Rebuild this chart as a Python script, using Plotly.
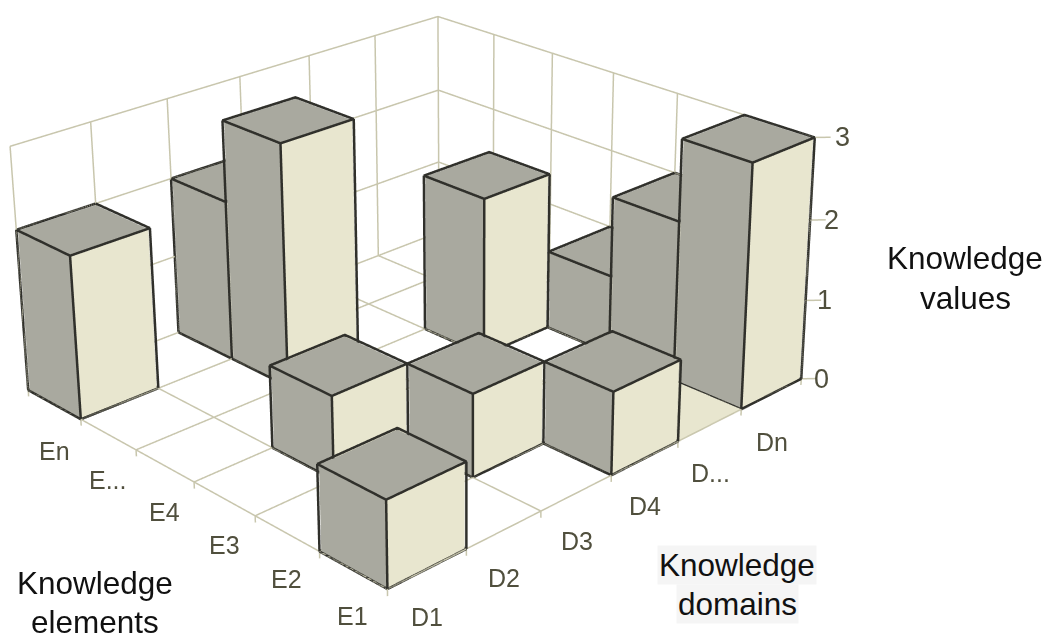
import plotly.graph_objects as go

# Chart content
DOMAINS = ["D1", "D2", "D3", "D4", "D...", "Dn"]
ELEMENTS = ["E1", "E2", "E3", "E4", "E...", "En"]
VALUE_TICKS = [0, 1, 2, 3]
# One row per element, one column per domain
KNOWLEDGE = [
    [1, 0, 0, 1, 0, 3],
    [0, 0, 1, 0, 0, 2],
    [0, 1, 0, 0, 0, 1],
    [0, 0, 0, 0, 2, 0],
    [0, 0, 3, 0, 0, 0],
    [2, 0, 2, 0, 0, 0],
]
# Zero-height cell whose floor square is tinted (column, row)
TINTED_CELL = (4, 0)

# Canvas larger than the window so the 3D lens is long; only one part of it is shown
VIEW_W, VIEW_H = 1049, 635
FIG_W, FIG_H = 3049, 2021
LEFT, TOP = 1035, 845

GREY = "#A9A99F"
CREAM = "#E8E6CF"
EDGE = "#30302B"
GRID = "#C8C6AD"
TICK_TEXT = "#504F3D"
# Faces sit slightly inside their outline so the full stroke width stays visible
INSET = 0.012
VALUE_TICK_SHIFT = [20, 19, 21, 28]


def polyline_trace(segments, color, width):
    xs, ys, zs = [], [], []
    for seg in segments:
        for p in seg:
            xs.append(p[0]); ys.append(p[1]); zs.append(p[2])
        xs.append(None); ys.append(None); zs.append(None)
    return go.Scatter3d(x=xs, y=ys, z=zs, mode="lines", hoverinfo="skip",
                        showlegend=False, line=dict(color=color, width=width))


n_d, n_e, top = len(DOMAINS), len(ELEMENTS), VALUE_TICKS[-1]

# Walls, floor and the little tick stubs
grid = []
for a in range(n_d + 1):
    grid.append([(a, 0, -0.08), (a, 0, 0), (a, n_e, 0), (a, n_e, top)])
for b in range(n_e + 1):
    grid.append([(0, b, -0.08), (0, b, 0), (n_d, b, 0), (n_d, b, top)])
for v in VALUE_TICKS:
    grid.append([(0, n_e, v), (n_d, n_e, v), (n_d, 0, v), (n_d + 0.12, -0.12, v)])

# Bars
vx, vy, vz, fi, fj, fk, fc = [], [], [], [], [], [], []
edges = []
for b, row in enumerate(KNOWLEDGE):
    for a, val in enumerate(row):
        if not val:
            continue
        base = len(vx)
        for zz in (0, val - INSET):
            for xx, yy in ((a + INSET, b + INSET), (a + 1 - INSET, b + INSET),
                           (a + 1 - INSET, b + 1 - INSET), (a + INSET, b + 1 - INSET)):
                vx.append(xx); vy.append(yy); vz.append(zz)
        quads = [((0, 1, 5, 4), CREAM), ((3, 0, 4, 7), GREY), ((4, 5, 6, 7), GREY),
                 ((1, 2, 6, 5), GREY), ((2, 3, 7, 6), GREY), ((0, 1, 2, 3), GREY)]
        for q, col in quads:
            for tri in ((q[0], q[1], q[2]), (q[0], q[2], q[3])):
                fi.append(base + tri[0]); fj.append(base + tri[1]); fk.append(base + tri[2])
                fc.append(col)
        ring = lambda z: [(a, b, z), (a + 1, b, z), (a + 1, b + 1, z), (a, b + 1, z), (a, b, z)]
        edges.append(ring(0))
        edges.append(ring(val))
        for xx, yy in ((a, b), (a + 1, b), (a + 1, b + 1), (a, b + 1)):
            edges.append([(xx, yy, 0), (xx, yy, val)])

# Tinted floor square
base = len(vx)
ca, cb = TINTED_CELL
for xx, yy in ((ca, cb), (ca + 1, cb), (ca + 1, cb + 1), (ca, cb + 1)):
    vx.append(xx); vy.append(yy); vz.append(0)
for tri in ((0, 1, 2), (0, 2, 3)):
    fi.append(base + tri[0]); fj.append(base + tri[1]); fk.append(base + tri[2])
    fc.append(CREAM)

fig = go.Figure()
fig.add_trace(polyline_trace(grid, GRID, 3))
fig.add_trace(go.Mesh3d(x=vx, y=vy, z=vz, i=fi, j=fj, k=fk, facecolor=fc, flatshading=True,
                        hoverinfo="skip", showscale=False,
                        lighting=dict(ambient=1, diffuse=0, specular=0, roughness=1, fresnel=0)))
fig.add_trace(polyline_trace(edges, EDGE, 5))

tick_font = dict(family="Liberation Sans", size=25, color=TICK_TEXT)
value_font = dict(family="Liberation Sans", size=27, color=TICK_TEXT)
scene_notes = []
for a, name in enumerate(DOMAINS):
    scene_notes.append(dict(x=a + 0.5, y=0, z=0, text=name, showarrow=False, yshift=-48, font=tick_font))
for b, name in enumerate(ELEMENTS):
    scene_notes.append(dict(x=0, y=b + 0.5, z=0, text=name, showarrow=False, yshift=-46, font=tick_font))
for v, shift in zip(VALUE_TICKS, VALUE_TICK_SHIFT):
    scene_notes.append(dict(x=n_d, y=0, z=v, text=str(v), showarrow=False, xshift=shift, font=value_font))


def title_note(text, x, y, bg=None):
    return dict(text=text, x=(x + LEFT) / FIG_W, y=1 - (y + TOP) / FIG_H, xref="paper", yref="paper",
                showarrow=False, xanchor="center", yanchor="middle", bgcolor=bg,
                font=dict(family="Liberation Sans", size=31.5, color="#111111"))


hidden = dict(visible=False, showgrid=False, showline=False, showticklabels=False,
              showbackground=False, zeroline=False, showspikes=False, title="")
fig.update_layout(
    width=FIG_W, height=FIG_H, margin=dict(l=0, r=0, t=0, b=0),
    paper_bgcolor="white", showlegend=False,
    scene=dict(
        domain=dict(x=[0, 1], y=[0, 1]),
        xaxis=dict(range=[-0.2, 6.2], **hidden),
        yaxis=dict(range=[-0.2, 6.2], **hidden),
        zaxis=dict(range=[-0.12, 3.12], **hidden),
        aspectmode="manual",
        aspectratio=dict(x=1.0667, y=0.9882, z=0.4953),
        camera=dict(
            projection=dict(type="perspective"),
            eye=dict(x=-2.6432, y=-2.8131, z=1.7168),
            center=dict(x=0.1221, y=-0.0571, z=0.1683),
            up=dict(x=0.2588, y=0.2626, z=0.9295),
        ),
        annotations=scene_notes,
    ),
    annotations=[
        title_note("Knowledge", 965, 258), title_note("values", 965, 298),
        title_note("Knowledge", 95, 583), title_note("elements", 95, 622),
        title_note("Knowledge", 737, 565, "#F5F5F5"), title_note("domains", 737, 604, "#F5F5F5"),
    ],
)

shift_view = f"""
document.documentElement.style.overflow = 'hidden';
document.body.style.overflow = 'hidden';
var gd = document.getElementById('{{plot_id}}');
gd.style.position = 'fixed';
gd.style.left = '{-LEFT}px';
gd.style.top = '{-TOP}px';
"""
fig.write_html("out.html", post_script=shift_view, config=dict(displayModeBar=False))
